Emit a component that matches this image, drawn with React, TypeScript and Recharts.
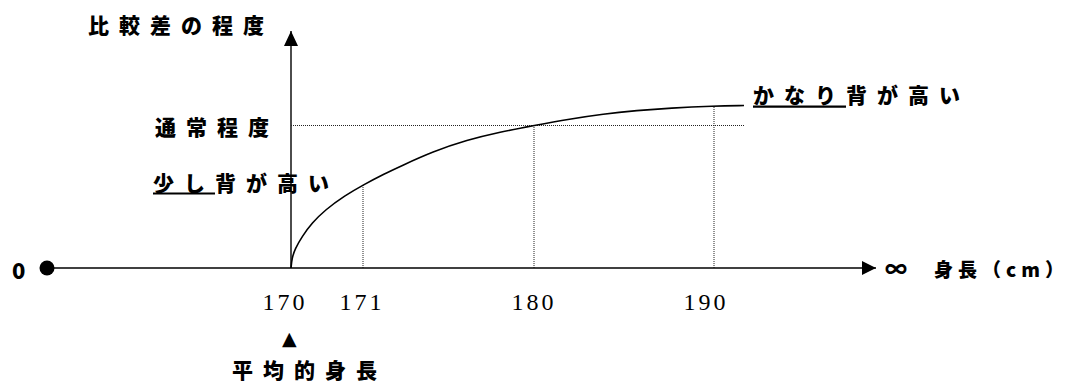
import React from 'react';
import { ComposedChart, Line, XAxis, YAxis, ReferenceLine, ReferenceDot } from 'recharts';

// Schematic diagram: horizontal "position" units (not linear in cm), vertical "degree of comparative difference"
const heightLabels = ['170', '171', '180', '190'];
const heightPos = [244, 316, 487, 667];
const heightLabelPos = [238, 315, 487, 659];
const heightLevel = [0, 83, 142.5, 162];

const curvePos = [244, 245, 248, 255, 265, 278, 298, 316, 338, 353, 386, 420, 453, 487, 523, 556, 590, 623, 667, 697];
const curveLevel = [0, 10, 19, 31.5, 45, 58, 72.5, 83, 94.5, 101.5, 116.5, 128, 136, 142.5, 149, 154, 157.5, 160, 162, 162.5];

const typicalLevel = 142.5;
const axisEndPos = 829;
const levelTop = 237;

const yTitle = '比較差の程度';
const typicalText = '通常程度';
const slightlyText = '少し背が高い';
const slightlyUnderline = 2;
const muchText = 'かなり背が高い';
const muchUnderline = 3;
const avgText = '平均的身長';
const zeroText = '0';
const infText = '∞';
const xTitle = '身長（cm）';

const data = curvePos.map((p, i) => ({ pos: p, level: curveLevel[i] }));

const JP = "'Noto Sans CJK JP', 'Noto Sans', sans-serif";

type NoteOpts = {
  text: string;
  dx: number;
  dy: number;
  size?: number;
  spacing?: number;
  underline?: number;
  underlineDy?: number;
  family?: string;
  weight?: number;
};

const makeNote = (o: NoteOpts) => (p: any) => {
  const vb = p.viewBox || {};
  const cx = (vb.x ?? 0) + (vb.width ?? 0) / 2;
  const cy = (vb.y ?? 0) + (vb.height ?? 0) / 2;
  const size = o.size ?? 21;
  const spacing = o.spacing ?? 10;
  const x = cx + o.dx;
  const y = cy + o.dy;
  return (
    <g>
      <text
        x={x}
        y={y}
        fontFamily={o.family ?? JP}
        fontWeight={o.weight ?? 900}
        fontSize={size}
        fill="#000"
        style={{ letterSpacing: spacing }}
      >
        {o.text}
      </text>
      {o.underline ? (
        <line
          x1={x}
          x2={x + o.underline * (size + spacing)}
          y1={y + (o.underlineDy ?? 3.5)}
          y2={y + (o.underlineDy ?? 3.5)}
          stroke="#000"
          strokeWidth={2.2}
        />
      ) : null}
    </g>
  );
};

const HeightTick = (props: any) => {
  const { x, y, payload } = props;
  const idx = heightLabelPos.indexOf(payload.value);
  return (
    <text
      x={x}
      y={y + 42}
      textAnchor="middle"
      fontFamily="'Liberation Serif', 'DejaVu Serif', serif"
      fontSize={24}
      fill="#000"
      style={{ letterSpacing: 3 }}
    >
      {idx >= 0 ? heightLabels[idx] : ''}
    </text>
  );
};

const RightArrow = (p: any) => (
  <polygon points={`${p.cx},${p.cy} ${p.cx - 14},${p.cy - 7} ${p.cx - 14},${p.cy + 7}`} fill="#000" />
);
const UpArrow = (p: any) => (
  <polygon points={`${p.cx},${p.cy} ${p.cx - 7},${p.cy + 15} ${p.cx + 7},${p.cy + 15}`} fill="#000" />
);

export default function App() {
  return (
    <div style={{ position: 'absolute', left: 0, top: 0, width: 1071, height: 383, background: '#fff' }}>
      <ComposedChart
        width={1071}
        height={383}
        data={data}
        margin={{ top: 31, right: 195, bottom: 85, left: 47 }}
      >
        <XAxis
          dataKey="pos"
          type="number"
          domain={[0, axisEndPos]}
          ticks={heightLabelPos}
          interval={0}
          height={30}
          tickSize={0}
          tickMargin={0}
          tickLine={false}
          axisLine={{ stroke: '#000', strokeWidth: 1.6 }}
          tick={<HeightTick />}
          allowDataOverflow
        />
        <YAxis type="number" domain={[0, levelTop]} hide width={0} allowDataOverflow />

        {/* vertical axis */}
        <ReferenceLine x={heightPos[0]} stroke="#000" strokeWidth={1.4} ifOverflow="visible" />

        {/* dotted guide lines */}
        <ReferenceLine
          segment={[{ x: heightPos[0], y: typicalLevel }, { x: curvePos[curvePos.length - 1], y: typicalLevel }]}
          stroke="#222"
          strokeWidth={1}
          strokeDasharray="1 1"
          ifOverflow="visible"
        />
        {heightPos.slice(1).map((p, i) => (
          <ReferenceLine
            key={p}
            segment={[{ x: p, y: 0 }, { x: p, y: heightLevel[i + 1] }]}
            stroke="#222"
            strokeWidth={1}
            strokeDasharray="1 1"
            ifOverflow="visible"
          />
        ))}

        <Line
          dataKey="level"
          type="basis"
          stroke="#000"
          strokeWidth={1.6}
          dot={false}
          activeDot={false}
          isAnimationActive={false}
        />

        {/* axis ends */}
        <ReferenceDot x={0} y={0} r={7.5} fill="#000" stroke="none" ifOverflow="visible"
          label={makeNote({ text: zeroText, dx: -35, dy: 11, size: 22, spacing: 0 })} />
        <ReferenceDot x={axisEndPos} y={0} r={7} shape={RightArrow} ifOverflow="visible"
          label={makeNote({ text: infText, dx: 9, dy: 9, size: 22, spacing: 0 })} />
        <ReferenceDot x={axisEndPos} y={0} r={0} ifOverflow="visible"
          label={makeNote({ text: xTitle, dx: 58, dy: 9, size: 19, spacing: 5 })} />
        <ReferenceDot x={heightPos[0]} y={levelTop} r={7} shape={UpArrow} ifOverflow="visible"
          label={makeNote({ text: yTitle, dx: -203, dy: 2 })} />

        {/* annotations */}
        <ReferenceDot x={heightPos[0]} y={typicalLevel} r={0} ifOverflow="visible"
          label={makeNote({ text: typicalText, dx: -136, dy: 9.5 })} />
        <ReferenceDot x={heightPos[1]} y={heightLevel[1]} r={0} ifOverflow="visible"
          label={makeNote({ text: slightlyText, dx: -210, dy: 5.5, underline: slightlyUnderline, underlineDy: 3 })} />
        <ReferenceDot x={curvePos[curvePos.length - 1]} y={curveLevel[curveLevel.length - 1]} r={0} ifOverflow="visible"
          label={makeNote({ text: muchText, dx: 9, dy: -2.5, underline: muchUnderline, underlineDy: 3.7 })} />
        <ReferenceDot x={heightPos[0]} y={0} r={0} ifOverflow="visible"
          label={makeNote({ text: '▲', dx: -9, dy: 77, size: 19, spacing: 0, family: "'DejaVu Sans', sans-serif", weight: 400 })} />
        <ReferenceDot x={heightPos[0]} y={0} r={0} ifOverflow="visible"
          label={makeNote({ text: avgText, dx: -59, dy: 110 })} />
      </ComposedChart>
    </div>
  );
}
